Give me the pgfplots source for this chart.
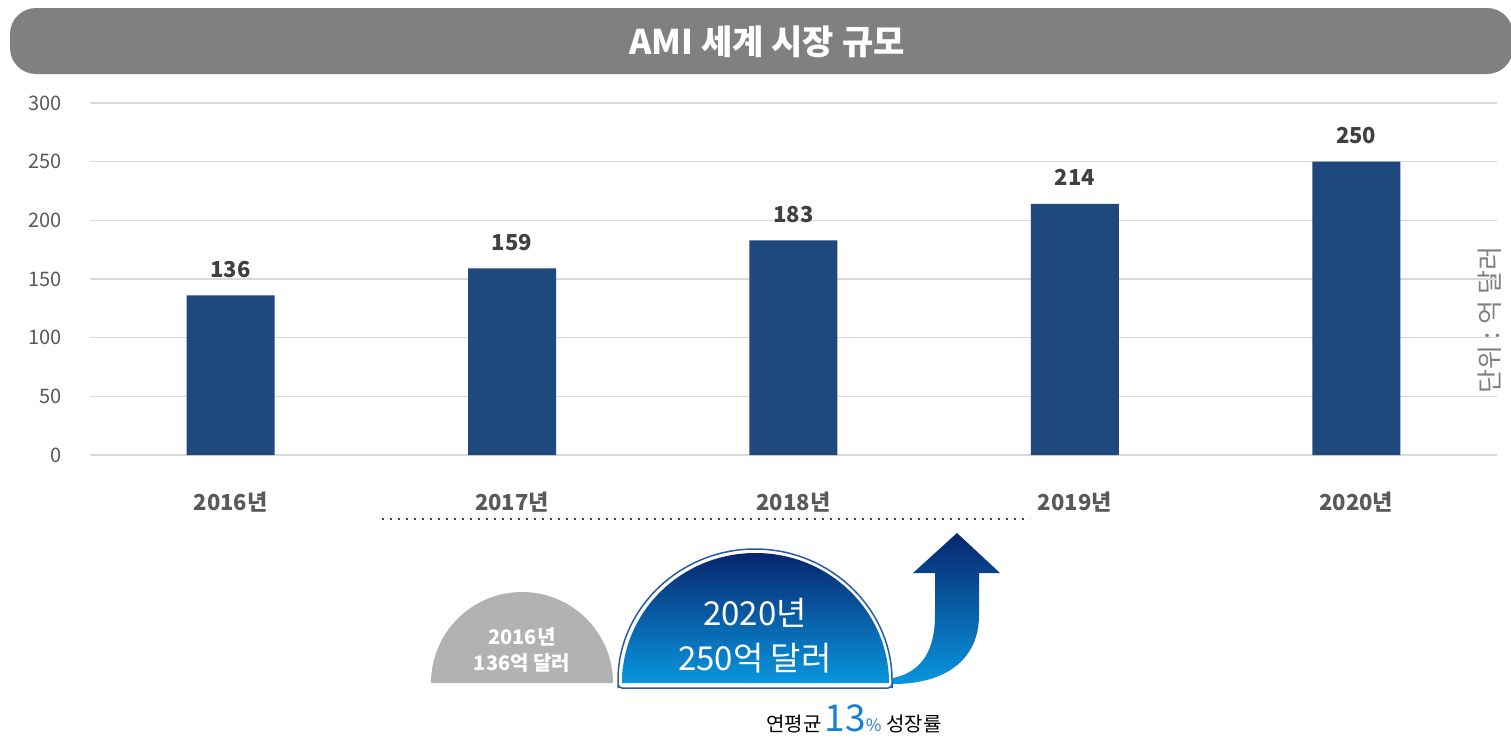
\documentclass[border=0pt]{standalone}
\usepackage{fontspec}
\setmainfont{Noto Sans CJK KR}
\usepackage{pgfplots}
\pgfplotsset{compat=1.18}
\usetikzlibrary{shadings}
\definecolor{barblue}{RGB}{31,73,125}
\definecolor{bannergray}{RGB}{128,128,128}
\definecolor{gridgray}{RGB}{217,217,217}
\definecolor{tickgray}{RGB}{89,89,89}
\definecolor{labgray}{RGB}{64,64,64}
\definecolor{semigray}{RGB}{178,178,178}
\definecolor{darknavy}{RGB}{8,38,110}
\definecolor{lightblue}{RGB}{8,150,222}
\definecolor{ringblue}{RGB}{40,90,170}
\definecolor{pctblue}{RGB}{24,128,208}
\begin{document}
\begin{tikzpicture}
\path[use as bounding box] (0pt,0pt) rectangle (1511pt,-736pt);
\begin{scope}[x=1pt,y=-1pt]
  % title banner
  \fill[bannergray,rounded corners=26pt] (10,8) rectangle (1513,74);
  \node[text=white,font=\fontsize{34pt}{38pt}\selectfont\bfseries] at (767,42) {AMI 세계 시장 규모};
  % unit text
  \node[rotate=90,text=bannergray,font=\fontsize{26pt}{30pt}\selectfont] at (1490,320) {단위 : 억 달러};
  % dotted line
  \draw[labgray,line width=2pt,dash pattern=on 2pt off 6pt] (382,519) -- (1030,519);
  % grey semicircle
  \fill[semigray] (431,683) arc[start angle=180,end angle=360,radius=91] -- cycle;
  \node[text=white,font=\fontsize{20pt}{24pt}\selectfont\bfseries] at (522,637) {2016년};
  \node[text=white,font=\fontsize{20pt}{24pt}\selectfont\bfseries] at (522,663) {136억 달러};
  % blue semicircle ring
  \draw[ringblue,line width=1.5pt,rounded corners=4pt] (618,688) -- (618,684) arc[start angle=180,end angle=360,x radius=137,y radius=135] -- (892,688) -- cycle;
  \shade[top color=darknavy,bottom color=lightblue] (622,683) arc[start angle=180,end angle=360,x radius=133.5,y radius=130] -- cycle;
  \node[text=white,font=\fontsize{33pt}{38pt}\selectfont] at (755,613) {2020년};
  \node[text=white,font=\fontsize{33pt}{38pt}\selectfont] at (755,658) {250억 달러};
  % arrow
  \shade[top color=darknavy,bottom color=lightblue]
    (957,533) -- (1000,573) -- (979,573) -- (979,615)
    .. controls (979,660) and (945,684) .. (893,684)
    -- (893,678)
    .. controls (922,672) and (935,650) .. (935,615)
    -- (935,573) -- (913,573) -- cycle;
  % growth text
  \node[anchor=base,inner sep=0pt] at (854,731) {\fontsize{20pt}{22pt}\selectfont 연평균\,{\color{pctblue}\fontsize{37pt}{40pt}\selectfont 13}{\color{pctblue}\fontsize{17pt}{20pt}\selectfont\%}\hspace{5pt}\fontsize{20pt}{22pt}\selectfont 성장률};
\end{scope}
\begin{axis}[
  at={(90pt,-455pt)}, anchor=south west,
  scale only axis, width=1407pt, height=352pt,
  xmin=-0.5, xmax=4.5, ymin=0, ymax=300,
  ybar, bar width=88pt,
  axis line style={draw=none},
  tick style={draw=none},
  ytick={0,50,...,300},
  ymajorgrids, grid style={gridgray,line width=1.5pt},
  xtick={0,1,2,3,4},
  xticklabels={2016년,2017년,2018년,2019년,2020년},
  /pgf/number format/assume math mode=true,
  yticklabel style={font=\fontsize{20pt}{24pt}\selectfont, text=tickgray, anchor=east, inner sep=0pt, xshift=-28pt},
  xticklabel style={font=\fontsize{22pt}{26pt}\selectfont\bfseries, text=tickgray, anchor=base, inner sep=0pt, yshift=-51pt},
  nodes near coords,
  nodes near coords style={font=\fontsize{22pt}{26pt}\selectfont\bfseries, text=labgray, anchor=base, inner sep=0pt, yshift=18pt},
]
\addplot[fill=barblue, draw=none] coordinates {(0,136) (1,159) (2,183) (3,214) (4,250)};
\end{axis}
\end{tikzpicture}
\end{document}
